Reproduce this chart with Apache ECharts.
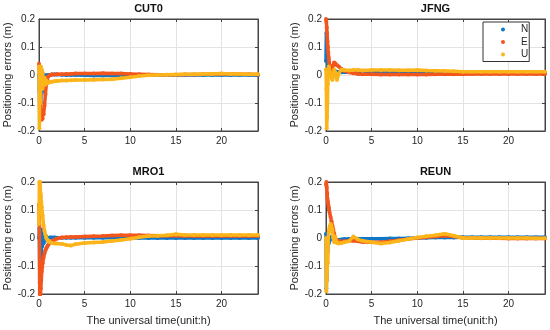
<!DOCTYPE html>
<html>
<head>
<meta charset="utf-8">
<script src="https://cdn.jsdelivr.net/npm/echarts@6/dist/echarts.min.js"></script>
<style>html,body{margin:0;padding:0;background:#fff;}#c{width:550px;height:330px;}</style>
</head>
<body>
<div id="c"></div>
<script>
const hours = [0, 0.04, 0.08, 0.12, 0.16, 0.2, 0.25, 0.3, 0.35, 0.4, 0.5, 0.6, 0.7, 0.8, 0.9, 1.0, 1.2, 1.4, 1.7, 2, 2.5, 3, 3.5, 4, 5, 6, 7, 8, 9, 10, 11, 12, 13, 14, 15, 16, 17, 18, 19, 20, 21, 22, 23, 24];
const stations = ['CUT0', 'JFNG', 'MRO1', 'REUN'];
const components = ['N', 'E', 'U'];
const xTicks = [0, 5, 10, 15, 20];
const yTicks = [-0.2, -0.1, 0, 0.1, 0.2];

const cut0N = [0, -0.05, -0.15, -0.08, 0.02, -0.1, -0.03, 0.01, -0.06, -0.02, -0.01, -0.005, 0, -0.01, -0.005, 0, 0, 0.002, 0.002, 0.002, 0.001, 0, 0, 0, -0.001, -0.002, -0.002, -0.002, -0.002, -0.001, -0.001, 0, 0, 0, 0, 0, 0, 0, 0, 0, 0, 0, 0, -0.001];
const cut0E = [0.04, 0.02, -0.06, -0.12, -0.1, -0.15, -0.14, -0.16, -0.15, -0.155, -0.14, -0.11, -0.07, -0.035, -0.015, -0.005, 0, 0.002, 0.002, 0.003, 0.003, 0.004, 0.004, 0.005, 0.005, 0.005, 0.006, 0.005, 0.005, 0.004, 0.003, 0.002, 0.001, 0.001, 0.001, 0.002, 0.002, 0.003, 0.003, 0.004, 0.004, 0.003, 0.003, 0.002];
const cut0U = [0.03, -0.19, -0.05, 0.02, -0.1, 0.03, -0.02, 0.02, -0.05, 0.01, -0.03, -0.01, -0.035, -0.02, -0.03, -0.028, -0.025, -0.024, -0.022, -0.021, -0.02, -0.02, -0.019, -0.018, -0.018, -0.017, -0.016, -0.015, -0.012, -0.008, -0.004, -0.001, 0, 0.001, 0.002, 0.003, 0.003, 0.004, 0.004, 0.005, 0.004, 0.004, 0.003, 0.003];

const jfngN = [0.05, 0.15, 0.12, 0.08, 0.06, 0.03, 0.02, 0.015, 0.01, 0.012, 0.015, 0.018, 0.02, 0.018, 0.015, 0.013, 0.012, 0.011, 0.01, 0.01, 0.01, 0.01, 0.01, 0.01, 0.01, 0.01, 0.01, 0.01, 0.01, 0.01, 0.009, 0.008, 0.007, 0.007, 0.006, 0.006, 0.006, 0.006, 0.006, 0.006, 0.006, 0.006, 0.006, 0.006];
const jfngE = [0.2, 0.19, 0.17, 0.15, 0.12, 0.1, 0.08, 0.06, 0.045, 0.035, 0.025, 0.02, 0.025, 0.035, 0.045, 0.042, 0.035, 0.03, 0.022, 0.015, 0.01, 0.006, 0.004, 0.003, 0.003, 0.002, 0.002, 0.002, 0.002, 0.002, 0.002, 0.003, 0.003, 0.003, 0.003, 0.004, 0.004, 0.004, 0.004, 0.004, 0.004, 0.004, 0.004, 0.004];
const jfngU = [0.02, -0.05, -0.19, -0.15, -0.1, -0.03, 0.01, 0.03, 0.02, 0.0, 0.01, -0.01, -0.018, 0.0, 0.02, 0.01, -0.018, 0.005, 0.02, 0.018, 0.016, 0.018, 0.018, 0.016, 0.018, 0.018, 0.018, 0.017, 0.017, 0.018, 0.016, 0.015, 0.014, 0.013, 0.012, 0.012, 0.012, 0.012, 0.012, 0.012, 0.012, 0.012, 0.012, 0.012];

const mro1N = [0.0, 0.035, -0.16, 0.03, -0.1, 0.02, -0.065, 0.03, -0.03, 0.02, -0.02, 0.01, -0.01, 0.005, -0.005, 0, 0.002, 0.002, 0.002, 0.001, 0.001, 0.001, 0.001, 0.001, 0.001, 0.001, 0.001, 0.001, 0.001, 0, 0, 0, 0, 0, 0, 0, 0, 0, 0, 0, 0, 0, 0, 0];
const mro1E = [0.12, 0.05, -0.2, -0.21, -0.2, -0.18, -0.15, -0.12, -0.105, -0.09, -0.07, -0.055, -0.045, -0.037, -0.03, -0.025, -0.018, -0.012, -0.006, -0.002, 0.002, 0.003, 0.004, 0.004, 0.005, 0.006, 0.007, 0.009, 0.01, 0.01, 0.01, 0.009, 0.008, 0.008, 0.008, 0.007, 0.007, 0.007, 0.007, 0.007, 0.007, 0.007, 0.007, 0.007];
const mro1U = [0.05, 0.2, 0.19, 0.2, 0.16, 0.15, 0.13, 0.11, 0.09, 0.08, 0.045, 0.025, 0.012, 0.0, -0.006, -0.01, -0.015, -0.018, -0.02, -0.02, -0.021, -0.025, -0.027, -0.022, -0.018, -0.016, -0.014, -0.011, -0.007, -0.003, 0.003, 0.007, 0.008, 0.01, 0.013, 0.011, 0.011, 0.011, 0.011, 0.011, 0.011, 0.011, 0.011, 0.011];

const reunN = [0.015, -0.18, -0.06, -0.15, 0.01, -0.05, 0.0, -0.02, 0.005, -0.01, 0.0, 0.002, 0.0, -0.002, -0.004, -0.005, -0.008, -0.006, -0.005, -0.004, -0.004, -0.003, -0.003, -0.003, -0.003, -0.003, -0.002, -0.002, -0.001, 0, 0.001, 0.002, 0.002, 0.002, 0.003, 0.003, 0.003, 0.003, 0.003, 0.003, 0.003, 0.003, 0.003, 0.003];
const reunE = [0.19, 0.2, 0.18, 0.16, 0.14, 0.13, 0.12, 0.11, 0.1, 0.09, 0.075, 0.06, 0.045, 0.03, 0.015, 0.0, -0.008, -0.012, -0.013, -0.012, -0.01, -0.01, -0.012, -0.014, -0.015, -0.015, -0.012, -0.008, -0.004, 0.0, 0.003, 0.005, 0.008, 0.005, 0.001, 0.0, -0.001, -0.001, -0.001, -0.002, -0.002, -0.002, -0.002, -0.002];
const reunU = [0.0, -0.19, -0.1, -0.15, -0.05, -0.09, 0.0, 0.02, 0.03, 0.04, 0.05, 0.045, 0.03, 0.0, -0.015, 0.005, -0.018, -0.02, -0.018, -0.015, -0.012, 0.005, -0.005, -0.01, -0.015, -0.02, -0.016, -0.01, -0.004, 0.002, 0.006, 0.01, 0.015, 0.008, 0.0, 0.0, 0.0, 0.0, 0.0, 0.0, 0.0, 0.0, -0.001, -0.001];

const stationData = [[cut0N, cut0E, cut0U], [jfngN, jfngE, jfngU], [mro1N, mro1E, mro1U], [reunN, reunE, reunU]];
const colors = ['#0f77c8', '#f2561d', '#fbb41a'];

const grids = [
  {left: 39, top: 19, width: 219, height: 112},
  {left: 326, top: 19, width: 219, height: 112},
  {left: 39, top: 182, width: 219, height: 112},
  {left: 326, top: 182, width: 219, height: 112}
];
const textColor = '#262626';
const font = 'Liberation Sans, Arial, Helvetica, sans-serif';

const xAxes = [], yAxes = [], series = [], titles = [];
grids.forEach((g, i) => {
  const bottomRow = i >= 2;
  xAxes.push({
    type: 'value', gridIndex: i, min: 0, max: 24, interval: 5, position: 'bottom',
    name: bottomRow ? 'The universal time(unit:h)' : '',
    nameLocation: 'middle', nameGap: 21,
    nameTextStyle: {fontSize: 11, color: textColor, fontFamily: font},
    axisLine: {show: true, onZero: false, lineStyle: {color: '#444'}},
    axisTick: {inside: true, length: 3, lineStyle: {color: '#444'}},
    axisLabel: {fontSize: 10, color: textColor, margin: 5, fontFamily: font, showMaxLabel: false,
      formatter: v => xTicks.indexOf(v) >= 0 ? String(v) : ''},
    splitLine: {show: true, lineStyle: {color: '#e3e3e3', width: 1}}
  });
  xAxes.push({
    type: 'value', gridIndex: i, min: 0, max: 24, interval: 5, position: 'top',
    axisLine: {show: true, onZero: false, lineStyle: {color: '#444'}},
    axisTick: {inside: true, length: 3, lineStyle: {color: '#444'}},
    axisLabel: {show: false}, splitLine: {show: false}
  });
  yAxes.push({
    type: 'value', gridIndex: i, min: -0.2, max: 0.2, interval: 0.1, position: 'left',
    name: 'Positioning errors (m)', nameLocation: 'middle', nameGap: 22, nameRotate: 90,
    nameTextStyle: {fontSize: 11, color: textColor, fontFamily: font},
    axisLine: {show: true, onZero: false, lineStyle: {color: '#444'}},
    axisTick: {inside: true, length: 3, lineStyle: {color: '#444'}},
    axisLabel: {fontSize: 10, color: textColor, margin: 4, fontFamily: font,
      formatter: v => { const r = Math.round(v * 10) / 10; return yTicks.indexOf(r) >= 0 ? String(r) : ''; }},
    splitLine: {show: true, lineStyle: {color: '#e3e3e3', width: 1}}
  });
  yAxes.push({
    type: 'value', gridIndex: i, min: -0.2, max: 0.2, interval: 0.1, position: 'right',
    axisLine: {show: true, onZero: false, lineStyle: {color: '#444'}},
    axisTick: {inside: true, length: 3, lineStyle: {color: '#444'}},
    axisLabel: {show: false}, splitLine: {show: false}
  });
  titles.push({
    text: stations[i], left: g.left + g.width / 2, top: bottomRow ? 166 : 3, textAlign: 'center', padding: 0,
    textStyle: {fontSize: 11, fontWeight: 'bold', color: '#111', fontFamily: font}
  });
  stationData[i].forEach((vals, k) => {
    series.push({
      name: components[k], type: 'line', xAxisIndex: i * 2, yAxisIndex: i * 2,
      data: hours.map((h, j) => [h, vals[j]]),
      symbol: 'circle', symbolSize: 4, showSymbol: true,
      lineStyle: {width: 3.5, color: colors[k]},
      itemStyle: {color: colors[k]},
      emphasis: {disabled: true}, animation: false, z: 2 + k, clip: true
    });
  });
});

const chart = echarts.init(document.getElementById('c'), null, {renderer: 'canvas'});
chart.setOption({
  backgroundColor: '#fff',
  animation: false,
  title: titles,
  grid: grids.map(g => Object.assign({show: true, borderColor: '#444', borderWidth: 1, backgroundColor: '#fff'}, g)),
  xAxis: xAxes,
  yAxis: yAxes,
  legend: {
    data: components, orient: 'vertical', left: 483, top: 22,
    icon: 'circle', itemWidth: 4, itemHeight: 4, itemGap: 0.5,
    padding: [1.5, 1, 1, 18], borderColor: '#333', borderWidth: 1, backgroundColor: '#fff',
    textStyle: {fontSize: 10, lineHeight: 12, color: textColor, fontFamily: font, padding: [0, 0, 0, 11]},
    selectedMode: false, z: 10
  },
  series: series
});
</script>
</body>
</html>
